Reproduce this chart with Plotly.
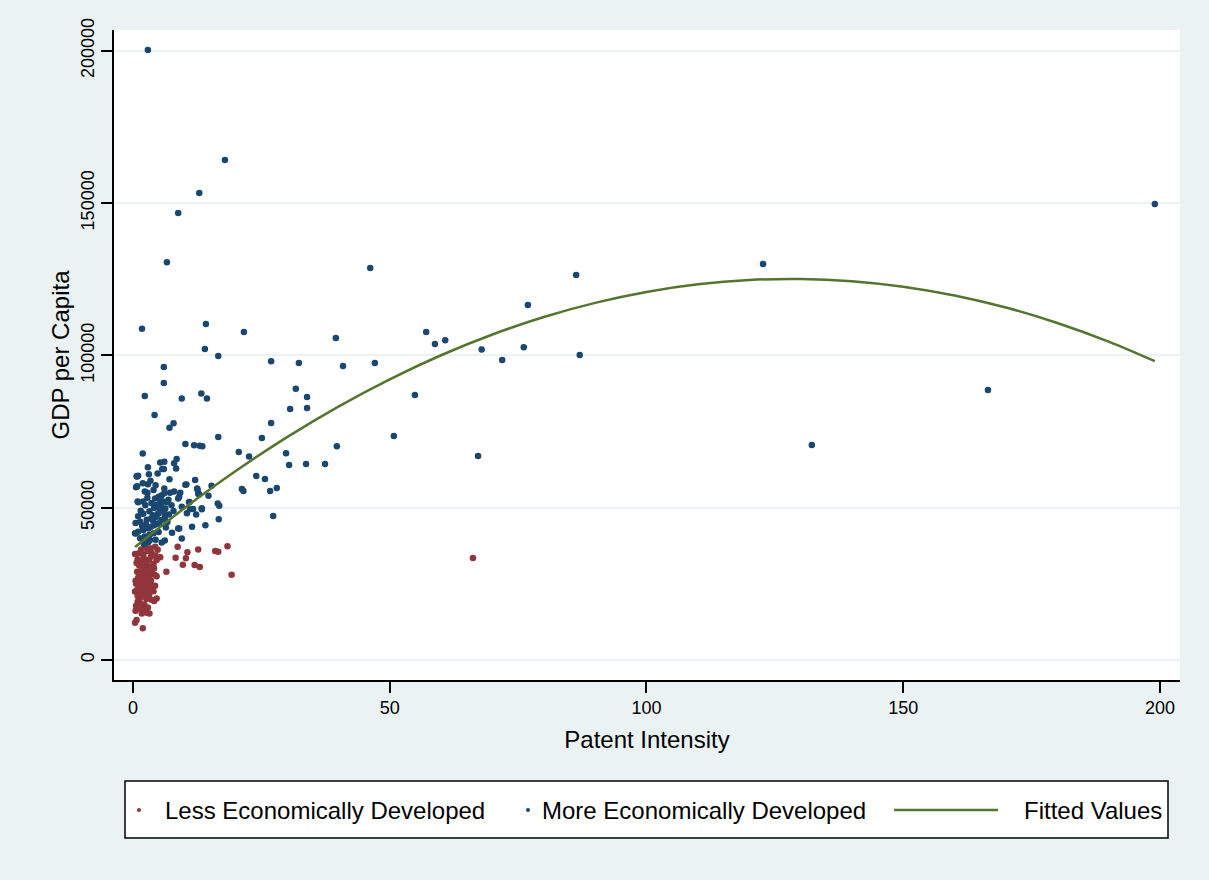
import plotly.graph_objects as go

# Less economically developed economies: patent intensity vs GDP per capita
less_x = [8.7, 10.6, 12.7, 8.3, 10.3, 9.7, 12.0, 13.0, 16.0, 16.6, 18.4, 19.2, 6.5, 66.2, 5.3, 4.6, 4.1,
          2.3, 3.3, 4.3, 1.0, 2.0, 2.8, 3.6, 4.8, 1.6, 0.4,
          0.9, 1.5, 2.1, 2.6, 3.1, 3.5, 4.0, 1.2, 1.9, 2.4, 3.0, 3.7, 4.4, 0.7,
          0.8, 1.3, 1.8, 2.2, 2.7, 3.2, 3.6, 4.2, 1.0, 1.6, 2.1, 2.6, 3.0, 3.5, 4.6, 0.5,
          0.6, 1.1, 1.5, 2.0, 2.4, 2.9, 3.3, 3.8, 4.3, 0.8, 1.3, 1.8, 2.3, 2.8, 3.2, 4.0, 0.4, 1.6,
          0.9, 1.4, 2.0, 2.6, 3.1, 4.1, 4.6, 3.6, 0.9, 1.4, 2.2, 0.6,
          0.5, 1.7, 2.7, 3.2, 2.2, 1.2, 0.7, 0.4, 1.9, 2.9]
less_y = [37200, 35400, 36300, 33600, 33400, 31300, 31200, 30500, 35800, 35500, 37300, 28000, 29000, 33500, 33700, 32800, 30100,
          37200, 36700, 37200, 35000, 34500, 35800, 35200, 36200, 36300, 34800,
          33000, 32300, 33400, 31900, 32800, 33900, 31600, 31000, 30500, 30200, 30800, 30600, 34300, 31800,
          29000, 28500, 29500, 28100, 29200, 27800, 28800, 28000, 27000, 26500, 27200, 26300, 26800, 26100, 27500, 26000,
          25000, 24500, 25500, 24200, 25100, 23800, 24900, 23500, 24400, 23000, 22500, 23300, 22200, 22800, 22000, 22600, 22500, 21800,
          21000, 20400, 20900, 20000, 21200, 19400, 20200, 19800, 19100, 18600, 18200, 17800,
          16200, 15300, 15500, 15300, 16800, 17000, 13100, 12200, 10400, 17200]

# More economically developed economies
more_x = [2.9, 17.9, 12.9, 8.8, 6.6, 46.2, 86.3, 122.7, 199.0, 76.9, 1.75, 14.2, 21.6, 57.1, 60.8,
          58.8, 39.5, 67.9, 76.1, 87.0, 71.9, 14.0, 16.6, 26.9, 32.3, 40.9, 47.1, 6.0, 6.0, 31.7,
          2.3, 9.5, 13.3, 14.4, 33.9, 54.9, 166.5, 33.9, 30.6, 4.2, 7.9, 7.1, 26.9, 25.1, 50.8,
          16.6, 10.2, 11.9, 13.0, 13.5, 39.7, 132.2, 67.2, 20.6, 1.9, 22.6, 29.8, 37.4, 33.7, 30.4,
          24.0, 25.7, 21.2, 26.7, 28.0, 27.3,
          8.0, 5.3, 6.1, 8.5, 2.9, 5.7, 6.0, 8.4, 3.1, 4.8, 0.8, 0.7, 1.0, 7.1, 12.1,
          10.2, 15.3, 12.6, 12.7, 12.9, 9.2, 8.8, 14.7, 11.0, 16.5, 16.8, 21.5, 9.5, 11.7, 13.4,
          12.3, 16.7, 9.0, 11.5, 14.1, 9.5,
          0.7, 2.9, 2.3, 2.8, 4.0, 6.1, 7.2, 8.0, 2.8, 5.0, 5.6, 5.3, 6.1, 9.0, 0.9,
          4.6, 5.3, 5.9, 4.1, 4.8, 5.5, 6.3,
          1.4, 2.7, 3.6, 4.6, 4.9, 5.6, 6.2, 6.1, 5.3, 0.4, 1.0, 2.0, 3.0, 3.5, 4.1,
          4.7, 1.4, 2.3, 3.2, 4.0, 8.8, 6.2, 5.6,
          2.0, 3.2, 3.9, 2.5, 1.8, 3.9, 5.1, 6.7, 7.0, 7.5, 6.6, 4.3, 3.6, 2.4, 1.5,
          3.0, 4.4, 2.1, 5.0, 6.4, 7.6, 3.4, 1.9, 4.4, 6.9, 7.9, 10.5, 1.0, 0.5,
          0.8, 0.6, 2.0, 1.0, 0.5, 3.3, 3.0, 10.4, 12.5, 10.9, 11.1, 13.4]
more_y = [200200, 164100, 153300, 146700, 130600, 128700, 126400, 130000, 149700, 116500, 108700, 110300, 107700, 107700, 105000,
          103700, 105700, 101900, 102700, 100100, 98500, 102100, 99800, 98100, 97500, 96500, 97500, 96200, 90900, 89000,
          86700, 85800, 87500, 85800, 86300, 87000, 88600, 82700, 82400, 80400, 77700, 76200, 77800, 72900, 73500,
          73200, 70900, 70500, 70300, 70200, 70200, 70600, 67000, 68300, 67800, 66800, 67900, 64300, 64300, 64000,
          60400, 59400, 56100, 55500, 56500, 47300,
          64600, 64800, 65100, 66000, 63300, 62700, 62700, 62900, 61000, 61200, 60200, 60300, 60500, 59300, 59100,
          57500, 57200, 55800, 54600, 54400, 54900, 53000, 53900, 51900, 51400, 50600, 55500, 50300, 49600, 49800,
          47800, 46200, 43200, 43700, 44200, 39900,
          56900, 57700, 55300, 54900, 55800, 56300, 54900, 55300, 53300, 53600, 54100, 52500, 54700, 53600, 52000,
          50900, 51400, 52000, 49900, 50500, 50300, 49700,
          45400, 46000, 46500, 47000, 48100, 46000, 46500, 48100, 49200, 41600, 42100, 42700, 43200, 43700, 44200,
          44700, 40000, 40500, 41000, 41600, 43200, 39200, 38600,
          48000, 48800, 47500, 44500, 43900, 45800, 44900, 45300, 47800, 50800, 51800, 53000, 51500, 50800, 49000,
          39100, 39500, 38200, 42000, 43500, 41800, 58800, 58000, 57400, 52600, 48900, 48200, 47200, 45000,
          57000, 56700, 52000, 51800, 41500, 39400, 38700, 57600, 56300, 51800, 49500, 49500]

# Quadratic fitted values
fit_x = [0.4, 10, 20, 30, 40, 50, 60, 70, 80, 90, 100, 110, 120, 130, 140, 150, 160, 170, 180, 190, 199]
fit_y = [37100, 49820, 62020, 73140, 83190, 92150, 100040, 106850, 112580, 117240, 120820,
         123320, 124740, 125080, 124350, 122540, 119650, 115690, 110640, 104520, 98090]

x_ticks = [0, 50, 100, 150, 200]
y_ticks = [0, 50000, 100000, 150000, 200000]

legend_labels = ["Less Economically Developed", "More Economically Developed", "Fitted Values"]

RED = "#90353B"
BLUE = "#1A476F"
GREEN = "#55752F"
BG = "#EAF2F3"
FONT = "Liberation Sans, Arial, Helvetica, sans-serif"

W, H = 1209, 880
L, R, T, B = 114, 29, 30, 200
PW, PH = W - L - R, H - T - B


def px(xp):
    return (xp - L) / PW


def py(yp):
    return (H - B - yp) / PH


fig = go.Figure()
fig.add_trace(go.Scatter(x=less_x, y=less_y, mode="markers", name=legend_labels[0],
                         marker=dict(color=RED, size=6.5, line=dict(width=0))))
fig.add_trace(go.Scatter(x=more_x, y=more_y, mode="markers", name=legend_labels[1],
                         marker=dict(color=BLUE, size=6.5, line=dict(width=0))))
fig.add_trace(go.Scatter(x=fit_x, y=fit_y, mode="lines", name=legend_labels[2],
                         line=dict(color=GREEN, width=2.5, shape="spline")))

# Legend box drawn under the plot
shapes = [
    dict(type="rect", xref="paper", yref="paper", x0=px(125), x1=px(1168), y0=py(838), y1=py(781),
         fillcolor="white", line=dict(color="black", width=1.5)),
    dict(type="circle", xref="paper", yref="paper", x0=px(137), x1=px(141), y0=py(812), y1=py(808),
         fillcolor=RED, line=dict(width=0)),
    dict(type="circle", xref="paper", yref="paper", x0=px(526), x1=px(530), y0=py(812), y1=py(808),
         fillcolor=BLUE, line=dict(width=0)),
    dict(type="line", xref="paper", yref="paper", x0=px(894), x1=px(998), y0=py(810), y1=py(810),
         line=dict(color=GREEN, width=2.5)),
]
annotations = [
    dict(text=legend_labels[0], x=px(163), y=py(810)),
    dict(text=legend_labels[1], x=px(540), y=py(810)),
    dict(text=legend_labels[2], x=px(1022), y=py(810)),
]
for a in annotations:
    a.update(xref="paper", yref="paper", xanchor="left", yanchor="middle", showarrow=False,
             font=dict(size=24, family=FONT, color="black"))

fig.update_layout(
    width=W, height=H,
    margin=dict(l=L, r=R, t=T, b=B, autoexpand=False),
    paper_bgcolor=BG, plot_bgcolor="white",
    font=dict(family=FONT, color="black", size=18),
    showlegend=False,
    shapes=shapes,
    annotations=annotations,
)
fig.update_xaxes(
    range=[-3.70, 203.9], tickvals=x_ticks, ticktext=[str(v) for v in x_ticks],
    ticks="outside", ticklen=11, tickwidth=1.5, tickcolor="black",
    showline=True, linecolor="black", linewidth=1.5,
    showgrid=False, zeroline=False, tickfont=dict(size=18),
    title=dict(text="Patent Intensity", font=dict(size=24), standoff=14),
)
fig.update_yaxes(
    range=[-6565, 206800], tickvals=y_ticks, ticktext=[str(v) for v in y_ticks],
    tickangle=-90,
    ticks="outside", ticklen=11, tickwidth=1.5, tickcolor="black",
    showline=True, linecolor="black", linewidth=1.5,
    showgrid=True, gridcolor=BG, gridwidth=2, zeroline=False, tickfont=dict(size=18),
    title=dict(text="GDP per Capita", font=dict(size=24), standoff=2),
)

fig.write_html("out.html")
